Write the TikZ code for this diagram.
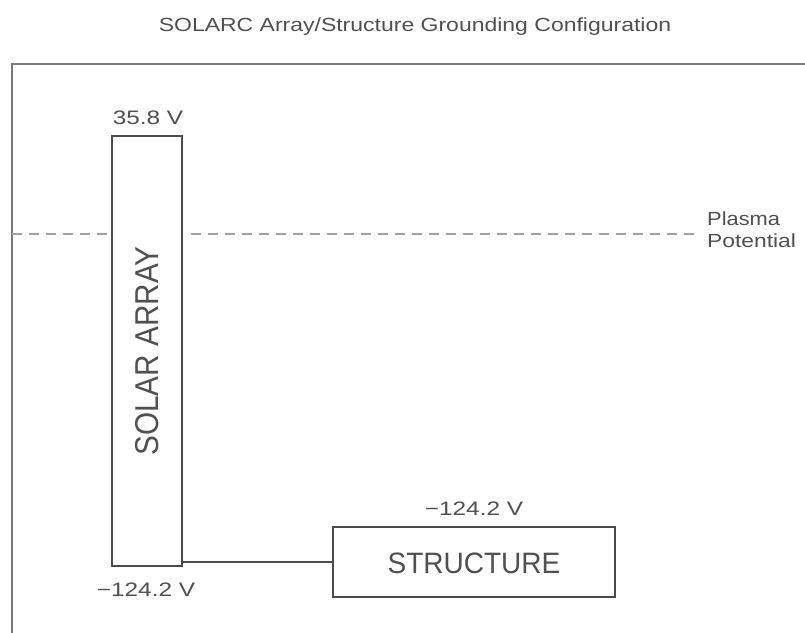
\documentclass[tikz,border=0pt]{standalone}
\usepackage{fontspec}
\setmainfont{Liberation Sans}
\usepackage{graphicx}
\definecolor{txtgray}{HTML}{505050}
\definecolor{linegray}{HTML}{4A4A4A}
\definecolor{framegray}{HTML}{7A7A7A}
\definecolor{dashgray}{HTML}{A0A0A0}
\begin{document}
\begin{tikzpicture}[x=1pt,y=-1pt,
  lbl/.style={inner sep=0pt,text=txtgray,anchor=base},
  boxnode/.style={draw=linegray,line width=1.4pt,inner sep=0pt,fill=white},
  wire/.style={draw=linegray,line width=1.4pt},
  plasmaline/.style={draw=dashgray,line width=2pt,dash pattern=on 10pt off 7pt}]
\useasboundingbox (0,0) rectangle (805,632);
\fill[white] (0,0) rectangle (805,632);
% frame
\draw[framegray,line width=2pt] (806,64) -- (12,64) -- (12,633);
% title
\node[lbl] (title) at (415,31) {\fontsize{19pt}{22pt}\selectfont\scalebox{1.21}[1]{SOLARC Array/Structure Grounding Configuration}};
% solar array
\node[boxnode,minimum width=70pt,minimum height=430pt] (sa) at (147,351) {};
\node[inner sep=0pt,text=txtgray,rotate=90] (satext) at (147.5,351) {\fontsize{33pt}{36pt}\selectfont\scalebox{0.9}[1]{SOLAR ARRAY}};
\node[lbl] (satop) at (148,124) {\fontsize{19.5pt}{22pt}\selectfont\scalebox{1.25}[1]{35.8 V}};
\node[lbl] (sabot) at (146,596) {\fontsize{19.5pt}{22pt}\selectfont\scalebox{1.25}[1]{−124.2 V}};
% structure
\node[boxnode,minimum width=282pt,minimum height=70pt] (st) at (474,562) {};
\node[lbl] (sttext) at (474,573) {\fontsize{29.5pt}{32pt}\selectfont\scalebox{0.95}[1]{STRUCTURE}};
\node[lbl] (sttop) at (474,515) {\fontsize{19.5pt}{22pt}\selectfont\scalebox{1.25}[1]{−124.2 V}};
% connector
\draw[wire] (sa.east |- st.west) -- (st.west);
% plasma potential
\node[lbl,anchor=base west] (pl1) at (707,225) {\fontsize{19pt}{22pt}\selectfont\scalebox{1.15}[1]{Plasma}};
\node[lbl,anchor=base west] (pl2) at (707,247) {\fontsize{19pt}{22pt}\selectfont\scalebox{1.2}[1]{Potential}};
\coordinate (dl) at (12,234);
\coordinate (dr) at (697,234);
\draw[plasmaline] (dl) -- (dl -| sa.west);
\draw[plasmaline] ([xshift=8pt]dl -| sa.east) -- (dr);
\end{tikzpicture}
\end{document}
